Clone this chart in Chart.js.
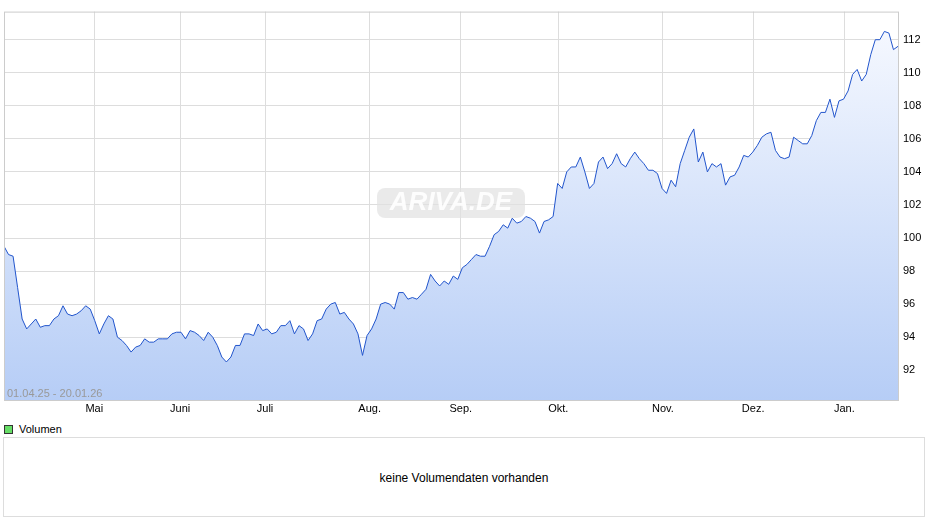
<!DOCTYPE html>
<html><head><meta charset="utf-8">
<script src="https://cdn.jsdelivr.net/npm/chart.js@4"></script>
<style>
body{margin:0;background:#fff;font-family:"Liberation Sans",Arial,sans-serif;}
#wrap{position:absolute;left:0;top:0;width:940px;height:420px;}
#leg{position:absolute;left:4px;top:423px;font-size:11px;color:#000;}
#leg span{display:inline-block;width:7px;height:7px;background:#66dd66;border:1px solid #333;margin-right:6px;vertical-align:-1px;}
#vol{position:absolute;left:3px;top:437px;width:922px;height:80px;border:1px solid #ddd;box-sizing:border-box;text-align:center;line-height:80px;font-size:12px;color:#000;}
</style></head><body>
<div id="wrap"><canvas id="c"></canvas></div>
<div id="leg"><span></span>Volumen</div>
<div id="vol">keine Volumendaten vorhanden</div>
<script>
const prices=[99.5,99.0,98.9,97.0,95.1,94.5,94.8,95.1,94.6,94.7,94.7,95.1,95.3,95.9,95.4,95.3,95.4,95.6,95.9,95.7,95.0,94.2,94.8,95.3,95.1,94.0,93.8,93.5,93.1,93.4,93.5,93.9,93.7,93.7,93.9,93.9,93.9,94.2,94.3,94.3,93.9,94.4,94.3,94.1,93.8,94.3,94.0,93.5,92.8,92.5,92.8,93.5,93.5,94.2,94.2,94.1,94.8,94.4,94.5,94.2,94.3,94.7,94.7,95.0,94.2,94.7,94.5,93.8,94.2,95.0,95.1,95.7,96.0,96.1,95.4,95.5,95.1,94.8,94.2,92.9,94.1,94.5,95.1,96.0,96.1,96.0,95.7,96.7,96.7,96.3,96.4,96.3,96.6,96.9,97.8,97.4,97.1,97.4,97.2,97.7,97.5,98.2,98.4,98.7,99.0,98.9,98.9,99.5,100.2,100.4,100.8,100.6,101.2,100.9,101.0,101.3,101.2,101.0,100.3,101.0,101.1,101.3,103.3,103.0,104.0,104.3,104.3,104.9,104.0,103.0,103.3,104.6,104.9,104.2,104.5,105.1,104.5,104.3,104.8,105.2,104.8,104.5,104.1,104.1,103.9,103.0,102.7,103.5,103.1,104.5,105.3,106.1,106.6,104.6,105.2,104.0,104.5,104.3,104.5,103.2,103.7,103.8,104.3,105.0,104.9,105.2,105.6,106.1,106.3,106.4,105.3,104.9,104.8,104.9,106.1,105.9,105.7,105.7,106.2,107.1,107.6,107.6,108.4,107.3,108.3,108.4,108.9,109.9,110.2,109.5,109.9,111.1,112.0,112.0,112.5,112.4,111.4,111.6];
const monthLabels=['Mai','Juni','Juli','Aug.','Sep.','Okt.','Nov.','Dez.','Jan.'];
const monthFrac=[0.101,0.197,0.292,0.409,0.511,0.620,0.737,0.838,0.940];
const yTicks=[92,94,96,98,100,102,104,106,108,110,112];
const rangeLabel='01.04.25 - 20.01.26';
const N=prices.length;
const idx=prices.map((_,i)=>i);
const deco={id:'deco',beforeDatasetsDraw(ch){const {ctx}=ch;ctx.save();
ctx.fillStyle='rgba(225,225,225,0.7)';ctx.beginPath();if(ctx.roundRect)ctx.roundRect(377,188,148,30,8);else ctx.rect(377,188,148,30);ctx.fill();
ctx.font='bold italic 26px "Liberation Sans",Arial';ctx.fillStyle='rgba(255,255,255,0.9)';ctx.textAlign='center';ctx.textBaseline='middle';ctx.fillText('ARIVA.DE',451,203);ctx.restore();},
afterDatasetsDraw(ch){const {ctx,chartArea:a}=ch;ctx.save();ctx.font='11px "Liberation Sans",Arial';ctx.fillStyle='#999';ctx.textBaseline='bottom';ctx.fillText(rangeLabel,a.left+3,a.bottom-1);ctx.strokeStyle='#ccc';ctx.lineWidth=1;ctx.strokeRect(a.left+0.5,a.top+0.5,a.right-a.left,a.bottom-a.top);ctx.restore();}};
new Chart(document.getElementById('c'),{type:'line',
data:{datasets:[{data:idx.map((i)=>({x:i,y:prices[i]})),borderColor:'#2255cc',borderWidth:1,pointRadius:0,tension:0,fill:'start',
backgroundColor:(c)=>{const a=c.chart.chartArea;if(!a)return '#dde8fb';const g=c.chart.ctx.createLinearGradient(0,a.top,0,a.bottom);g.addColorStop(0,'#f8faff');g.addColorStop(1,'#b6cdf6');return g;}}]},
options:{responsive:true,maintainAspectRatio:false,animation:false,layout:{padding:{top:-4,left:4,right:0,bottom:0}},
plugins:{legend:{display:false},tooltip:{enabled:false}},
scales:{x:{type:'linear',min:0,max:N-1,
afterBuildTicks(ax){ax.ticks=monthFrac.map(f=>({value:f*(N-1)}));},
ticks:{autoSkip:false,maxRotation:0,color:'#000',font:{family:'"Liberation Sans",Arial',size:11},padding:2,callback:(v,i)=>monthLabels[i]},
grid:{color:'#ddd',drawTicks:false},border:{display:false},afterFit(ax){ax.height=20;}},
y:{position:'right',min:90.2,max:113.7,
afterBuildTicks(ax){ax.ticks=yTicks.map(v=>({value:v}));},
ticks:{color:'#000',font:{family:'"Liberation Sans",Arial',size:11},padding:5},
grid:{color:'#ddd',drawTicks:false},border:{display:false},afterFit(ax){ax.width=42;}}}},
plugins:[deco]});
</script></body></html>
